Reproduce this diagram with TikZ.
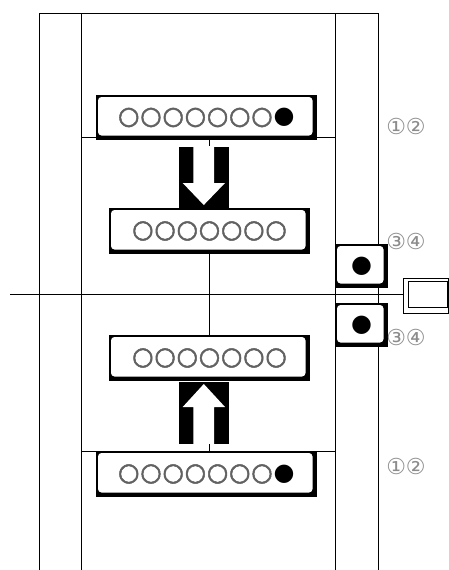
\documentclass[tikz,border=0pt]{standalone}
\usepackage{fontspec}
\usepackage{graphicx}
\newfontfamily\dejavu{DejaVu Sans}
\newfontfamily\dejavubold[FakeBold=2]{DejaVu Sans}
\definecolor{ringgray}{gray}{0.38}
\definecolor{numgray}{gray}{0.55}
\newcommand\cellg[1]{\makebox[22.2pt]{#1}}
\newcommand\ring{\cellg{\color{ringgray}\dejavubold\fontsize{25}{25}\selectfont\scalebox{0.98}[1]{○}}}
\newcommand\blob{\cellg{●}}
\begin{document}
\begin{tikzpicture}[x=1pt,y=-1pt,
  ln/.style={line width=0.9pt, black},
  panel/.style={rectangle, fill=black, inner sep=0pt,
    font=\dejavu\fontsize{24}{24}\selectfont,
    path picture={\fill[white, rounded corners=3.5pt]
      ([shift={(2pt,-2pt)}]path picture bounding box.north west) rectangle
      ([shift={(-4.5pt,4.5pt)}]path picture bounding box.south east);}},
  blockbar/.style={rectangle, fill=black, inner sep=0pt, minimum width=50pt},
  nums/.style={font=\dejavu\fontsize{22}{22}\selectfont, text=numgray, inner sep=0pt},
  frame/.style={rectangle, draw=black, line width=0.9pt, inner sep=0pt, fill=white}
]
\useasboundingbox (0,0) rectangle (449,570);
\fill[white] (0,0) rectangle (449,570);

% structural lines
\draw[ln] (39,570) -- (39,13) -- (378,13) -- (378,570);
\draw[ln] (81,13) -- (81,570);
\draw[ln] (335,13) -- (335,570);
\draw[ln] (81,137) -- (335,137);
\draw[ln] (81,451) -- (335,451);

\coordinate (ax) at (209,0);

% panels
\node[panel, minimum width=221pt, minimum height=45pt] (B1) at (206.5,117.5)
  {\ring\ring\ring\ring\ring\ring\ring\blob};
\node[panel, minimum width=201pt, minimum height=46pt] (B2) at (209.5,231)
  {\ring\ring\ring\ring\ring\ring\ring};
\node[panel, minimum width=201pt, minimum height=46pt] (B3) at (209.5,358)
  {\ring\ring\ring\ring\ring\ring\ring};
\node[panel, minimum width=221pt, minimum height=46pt] (B4) at (206.5,474)
  {\ring\ring\ring\ring\ring\ring\ring\blob};

% right side dot panels
\node[panel, minimum width=53pt, minimum height=44pt] (D1) at (361.5,266) {●};
\node[panel, minimum width=53pt, minimum height=44pt] (D2) at (361.5,325) {●};

% right rectangle (double frame)
\node[frame, minimum width=45.5pt, minimum height=35pt] (R) at (425.75,295.5) {};
\node[frame, minimum width=39pt, minimum height=26pt] (Ri) at (427.5,294) {};

% middle line
\coordinate (mL) at (10,294);
\draw[ln] (mL) -- (mL -| R.west);

% arrow blocks
\node[blockbar, minimum height=61pt] (dn) at (204.3,177.1) {};
\fill[white] (193.3,146.7) -- (214,146.7) -- (214,183) -- (225,183) -- (203.8,205)
  -- (182.7,183) -- (193.3,183) -- cycle;
\node[blockbar, minimum height=62pt] (up) at (204,413) {};
\fill[white] (193.3,444) -- (214,444) -- (214,407) -- (225,407) -- (203.8,384)
  -- (182.7,407) -- (193.3,407) -- cycle;

% connectors on the axis
\draw[ln] (B1.south -| ax) -- (dn.north -| ax);
\draw[ln] (B2.south -| ax) -- (B3.north -| ax);
\draw[ln] (up.south -| ax) -- (B4.north -| ax);

% circled numbers
\node[nums] (n1) at (406,126) {①②};
\node[nums] (n2) at (406,241) {③④};
\node[nums] (n3) at (406,337) {③④};
\node[nums] (n4) at (406,466) {①②};
\end{tikzpicture}
\end{document}
